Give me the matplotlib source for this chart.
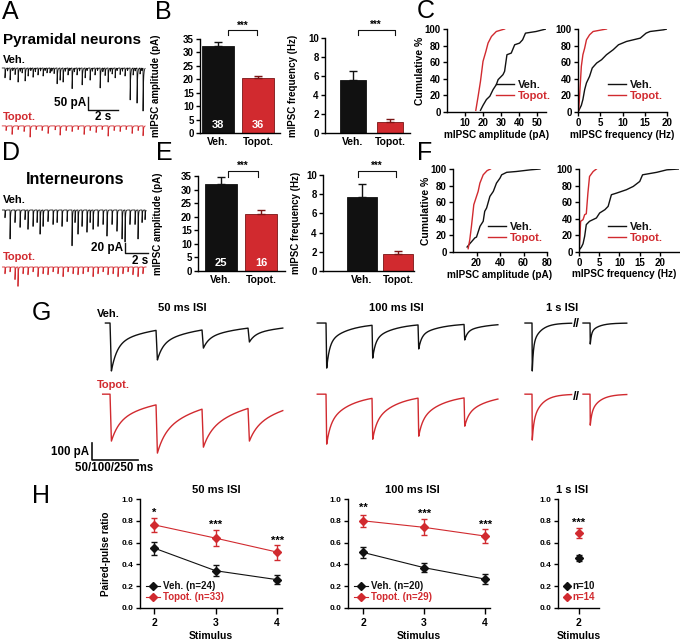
import numpy as np
import matplotlib.pyplot as plt
from matplotlib.lines import Line2D

W, H = 680, 644
RED = '#d12a2f'
DARKRED = '#7a1515'
BLACK = '#111111'

plt.rcParams['font.family'] = ['Liberation Sans', 'DejaVu Sans']
plt.rcParams['font.weight'] = 'bold'
plt.rcParams['axes.labelweight'] = 'bold'
plt.rcParams['axes.linewidth'] = 1.0
plt.rcParams['xtick.major.width'] = 1.0
plt.rcParams['ytick.major.width'] = 1.0

# ---------------- data ----------------
groups = ['Veh.', 'Topot.']

# B: pyramidal neurons, mean +- sem
b_amp, b_amp_err, b_n = [32.3, 20.6], [1.6, 0.8], [38, 36]
b_freq, b_freq_err = [5.6, 1.15], [0.95, 0.3]
# E: interneurons
e_amp, e_amp_err, e_n = [32.2, 21.0], [2.6, 1.5], [25, 16]
e_freq, e_freq_err = [7.7, 1.75], [1.4, 0.38]

# C: cumulative distributions, pyramidal neurons
c_amp_veh_x = [18.6, 20, 21.9, 23.8, 25.6, 27.4, 28.4, 29.3, 31.1, 32, 33.3, 35.7, 37.6, 40.3, 42, 43.6, 49.5, 55]
c_amp_veh_y = [2, 8, 15, 19, 27, 33, 39, 41, 45, 49, 69, 71, 81, 83, 87, 95, 97, 100]
c_amp_top_x = [16, 17.3, 18.6, 20, 21.6, 22.8, 24.7, 27.4, 32]
c_amp_top_y = [2, 19, 37, 61, 73, 83, 91, 97, 100]
c_freq_veh_x = [0.2, 0.75, 1.1, 1.5, 1.9, 2.6, 3.2, 4.2, 5.3, 6.4, 7.9, 9.1, 10.9, 14, 15.3, 16.2, 19.2, 20]
c_freq_veh_y = [2, 8, 15, 27, 35, 43, 53, 59, 63, 69, 75, 81, 85, 89, 95, 97, 99, 100]
c_freq_top_x = [0.15, 0.4, 0.75, 1.1, 1.5, 1.9, 2.6, 3.4, 6.4]
c_freq_top_y = [2, 23, 55, 69, 77, 87, 93, 97, 100]

# F: cumulative distributions, interneurons
f_amp_veh_x = [12, 14.3, 18.6, 20, 23, 25.7, 27, 28.6, 31.4, 34.3, 37, 40, 41.4, 45.7, 54, 66, 74]
f_amp_veh_y = [6, 10, 17, 18, 31, 37, 49, 53, 67, 73, 83, 89, 93, 96, 97, 99, 100]
f_amp_top_x = [12.9, 14.3, 15.7, 17.7, 20, 21.4, 22.9, 25.7, 29, 31.9]
f_amp_top_y = [4, 15, 31, 57, 67, 73, 83, 93, 98, 100]
f_freq_veh_x = [0.3, 0.6, 1, 1.4, 1.8, 2.6, 4.3, 5.1, 6.4, 7.2, 8, 9.3, 11.7, 13.4, 15, 15.7, 19.2, 21.7, 24.6]
f_freq_veh_y = [4, 6, 10, 19, 33, 37, 41, 47, 51, 55, 69, 71, 75, 79, 85, 93, 96, 99, 100]
f_freq_top_x = [0, 0.2, 0.4, 1, 1.4, 1.8, 2.2, 2.6, 3.5, 4.3]
f_freq_top_y = [2, 15, 37, 39, 45, 46, 71, 91, 97, 100]

# A: spontaneous events (time s, amplitude pA)
a_veh_t = [0.13, 0.3, 0.47, 0.65, 0.8, 1.0, 1.15, 1.27, 1.47, 1.67, 1.85, 2.0, 2.15, 2.33, 2.5,
           2.67, 2.8, 2.93, 3.13, 3.25, 3.4, 3.6, 3.8, 4.0, 4.15, 4.33, 4.45, 4.6, 4.75, 4.93,
           5.1, 5.27, 5.47, 5.6, 5.8, 5.95, 6.13, 6.3, 6.47, 6.65, 6.8, 7.0, 7.15, 7.27, 7.47,
           7.6, 7.8, 7.95, 8.13, 8.3, 8.47, 8.67, 8.8, 8.93, 9.13, 9.25, 9.33]
a_veh_amp = [38, 12, 46, 10, 27, 58, 12, 19, 50, 31, 10, 38, 14, 27, 12,
             31, 10, 19, 19, 12, 23, 65, 50, 58, 12, 27, 10, 85, 14, 27,
             12, 65, 38, 10, 50, 12, 27, 10, 77, 14, 31, 58, 12, 23, 38,
             10, 27, 12, 31, 10, 123, 27, 12, 135, 23, 10, 165]
a_top_t = [0.2, 0.6, 1.0, 1.4, 1.8, 2.2, 2.6, 3.0, 3.47, 3.8, 4.2, 4.6, 5.0, 5.4, 5.8, 6.2,
           6.6, 7.0, 7.4, 7.8, 8.2, 8.6, 9.0, 9.33]
a_top_amp = [19, 35, 15, 23, 46, 15, 19, 31, 15, 38, 19, 23, 15, 35, 19, 27,
             15, 42, 19, 23, 15, 31, 19, 38]

# D: spontaneous events (time s, amplitude pA)
d_veh_t = [0.17, 0.61, 1.04, 1.48, 1.91, 2.17, 2.61, 2.96, 3.22, 3.48, 3.91, 4.35, 4.7, 5.13,
           5.57, 6.0, 6.26, 6.52, 6.87, 7.3, 7.57, 7.83, 8.26, 8.7, 9.04, 9.48, 9.91, 10.35,
           10.61, 11.04, 11.48, 11.74, 12.09, 12.35]
d_veh_amp = [16, 60, 26, 36, 20, 40, 34, 26, 50, 34, 24, 30, 26, 34,
             24, 74, 26, 50, 34, 46, 26, 40, 34, 30, 54, 30, 44, 60,
             66, 30, 30, 60, 26, 20]
d_top_t = [0.17, 0.61, 1.04, 1.3, 1.74, 2.17, 2.61, 3.04, 3.48, 3.91, 4.35, 4.78, 5.22, 5.65,
           6.09, 6.52, 6.96, 7.39, 7.83, 8.26, 8.7, 9.13, 9.57, 10.0, 10.43, 10.87, 11.3,
           11.74, 12.17]
d_top_amp = [14, 10, 26, 40, 14, 16, 10, 20, 14, 16, 10, 14, 20, 10,
             14, 16, 14, 10, 20, 14, 10, 16, 14, 20, 14, 10, 16, 20, 14]

# G: evoked trains, peak current (pA) per stimulus
g_isi = [50, 100, 1000]
g_veh_peaks = [[283, 218, 148, 112], [266, 207, 153, 100], [283, 124]]
g_top_peaks = [[277, 348, 313, 277], [295, 266, 248, 189], [271, 183]]
g_veh_decay = (0.55, 6.0, 45.0)   # fast fraction, tau fast (ms), tau slow (ms)
g_top_decay = (0.40, 8.0, 50.0)

# H: paired-pulse ratio
stim = [2, 3, 4]
h50_veh, h50_veh_err = [0.55, 0.342, 0.26], [0.06, 0.053, 0.043]
h50_top, h50_top_err = [0.763, 0.641, 0.513], [0.067, 0.073, 0.069]
h100_veh, h100_veh_err = [0.51, 0.37, 0.265], [0.05, 0.04, 0.043]
h100_top, h100_top_err = [0.80, 0.74, 0.66], [0.055, 0.073, 0.066]
h1_veh, h1_veh_err = [0.458], [0.03]
h1_top, h1_top_err = [0.69], [0.045]
h50_stars, h50_star_y = ['*', '***', '***'], [0.87, 0.76, 0.62]
h100_stars, h100_star_y = ['**', '***', '***'], [0.92, 0.86, 0.76]

# ---------------- helpers ----------------
fig = plt.figure(figsize=(W / 100, H / 100), dpi=100)


def px_axes(x0, y0, x1, y1):
    return fig.add_axes([x0 / W, 1 - y1 / H, (x1 - x0) / W, (y1 - y0) / H])


def ftext(x, y, s, **kw):
    kw.setdefault('va', 'center')
    return fig.text(x / W, 1 - y / H, s, **kw)


def clean(ax):
    ax.spines['top'].set_visible(False)
    ax.spines['right'].set_visible(False)
    ax.tick_params(length=3, pad=1.5, labelsize=7)


def spont_trace(t, times, amps, tau=0.03, rise=0.004):
    y = np.zeros_like(t)
    for ti, a in zip(times, amps):
        dt = t - ti
        y -= a * np.where(dt < 0, 0.0, np.where(dt < rise, dt / rise, np.exp(-np.clip(dt - rise, 0, None) / tau)))
    return y


def evoked_trace(t, times, peaks, decay, rise=1.5):
    frac, tf, ts = decay

    def shape(dt):
        dt = np.asarray(dt, float)
        late = np.clip(dt - rise, 0, None)
        s = frac * np.exp(-late / tf) + (1 - frac) * np.exp(-late / ts)
        return np.where(dt < 0, 0.0, np.where(dt < rise, dt / rise, s))

    incs = []
    for i, (ti, pk) in enumerate(zip(times, peaks)):
        resid = sum(incs[j] * shape(ti + rise - times[j]) for j in range(i))
        incs.append(pk - resid)
    y = np.zeros_like(t)
    for ti, a in zip(times, incs):
        y -= a * shape(t - ti)
    return y


def blank(ax):
    ax.axis('off')


# ---------------- panel letters & titles ----------------
for lab, x, y in [('A', 2, 0), ('B', 155, 0), ('C', 417, -1), ('D', 2, 141), ('E', 156, 141),
                  ('F', 417, 141), ('G', 32, 301), ('H', 32, 484)]:
    ftext(x, y, lab, fontsize=18, fontweight='normal', va='top')

ftext(3, 40, 'Pyramidal neurons', fontsize=11)
ftext(26, 180, 'Interneurons', fontsize=11.6)

# ---------------- A: traces ----------------
ax = px_axes(0, 50, 152, 145)
blank(ax)
ax.set_xlim(-0.2, 9.93)
ax.set_ylim(-296.5, 69.3)
t = np.arange(-0.05, 9.47, 0.004)
ax.plot(t, spont_trace(t, a_veh_t, a_veh_amp), color=BLACK, lw=0.6)
ax.plot(t, spont_trace(t, a_top_t, a_top_amp) - 223, color=RED, lw=0.6)
ax.plot([5.67, 5.67, 7.67], [-111.7, -161.7, -161.7], color=BLACK, lw=1.0)
ax.text(5.55, -136, '50 pA', ha='right', va='center', fontsize=8.5)
ax.text(6.67, -188, '2 s', ha='center', va='center', fontsize=8.5)
ftext(3, 60, 'Veh.', fontsize=8)
ftext(3, 117, 'Topot.', fontsize=8, color=RED)

# ---------------- D: traces ----------------
ax = px_axes(0, 188, 152, 295)
blank(ax)
ax.set_xlim(-0.26, 12.96)
ax.set_ylim(-170, 44)
t = np.arange(-0.05, 12.45, 0.005)
ax.plot(t, spont_trace(t, d_veh_t, d_veh_amp), color=BLACK, lw=0.6)
ax.plot(t, spont_trace(t, d_top_t, d_top_amp) - 114, color=RED, lw=0.6)
ax.plot([10.61, 10.61, 12.61], [-66, -86, -86], color=BLACK, lw=1.0)
ax.text(10.45, -76, '20 pA', ha='right', va='center', fontsize=8.5)
ax.text(11.9, -102, '2 s', ha='center', va='center', fontsize=8.5)
ftext(3, 200, 'Veh.', fontsize=8)
ftext(3, 257, 'Topot.', fontsize=8, color=RED)


# ---------------- B / E: bars ----------------
def bar_panel(rect, xlim, width, vals, errs, ylim, yticks, ylabel, label_px, counts=None,
              bracket=None, star_y=None):
    ax = px_axes(*rect)
    clean(ax)
    x = np.arange(2)
    ax.bar(x, vals, width=width, color=[BLACK, RED], edgecolor=[BLACK, DARKRED], linewidth=0.6)
    ax.errorbar(x[:1], vals[:1], yerr=[[0], errs[:1]], fmt='none', ecolor=BLACK, elinewidth=1, capsize=3)
    ax.errorbar(x[1:], vals[1:], yerr=[[0], errs[1:]], fmt='none', ecolor=DARKRED, elinewidth=1, capsize=3)
    ax.set_xlim(*xlim)
    ax.set_ylim(*ylim)
    ax.set_yticks(yticks)
    ax.set_xticks(x)
    ax.set_xticklabels(groups, fontsize=7.5)
    ax.tick_params(axis='x', length=0, pad=3)
    ax.set_ylabel(ylabel, fontsize=7)
    ax.yaxis.set_label_coords((label_px - rect[0]) / (rect[2] - rect[0]), 0.5)
    if counts is not None:
        for xi, n in zip(x, counts):
            ax.text(xi, ylim[1] * 0.085, str(n), color='white', ha='center', va='center', fontsize=8)
    if bracket is not None:
        x0, x1, yb, yt = bracket
        ax.plot([x0, x0, x1, x1], [yb, yt, yt, yb], color=BLACK, lw=0.8, clip_on=False)
        ax.text((x0 + x1) / 2, star_y, '***', ha='center', va='center', fontsize=7)
    return ax


bar_panel((200, 39, 280, 133), (-0.45, 1.55), 0.78, b_amp, b_amp_err, (0, 35), range(0, 36, 5),
          'mIPSC amplitude (pA)', 161, b_n, (0.25, 0.97, 36.6, 38.4), 39.8)
bar_panel((325, 38, 410, 133), (-0.76, 1.54), 0.7, b_freq, b_freq_err, (0, 10), range(0, 11, 2),
          'mIPSC frequency (Hz)', 298, None, (0.12, 1.13, 10.3, 10.85), 11.35)
bar_panel((198, 176, 285, 271), (-0.575, 1.6), 0.82, e_amp, e_amp_err, (0, 35), range(0, 36, 5),
          'mIPSC amplitude (pA)', 163, e_n, (0.18, 0.92, 34.8, 37.0), 38.6)
bar_panel((323, 175, 414, 271), (-1.08, 1.44), 0.83, e_freq, e_freq_err, (0, 10), range(0, 11, 2),
          'mIPSC frequency (Hz)', 301, None, (-0.1, 0.93, 9.8, 10.4), 10.95)


# ---------------- C / F: cumulative ----------------
def cum_panel(rect, xlim, xticks, vx, vy, tx, ty, xlabel, leg_anchor, ylabel=None, xlabel_px=None):
    ax = px_axes(*rect)
    clean(ax)
    ax.plot(vx, vy, color=BLACK, lw=1.0, label='Veh.')
    ax.plot(tx, ty, color=RED, lw=1.0, label='Topot.')
    ax.set_xlim(*xlim)
    ax.set_ylim(0, 100)
    ax.set_xticks(xticks)
    ax.set_yticks(range(0, 101, 20))
    ax.set_xlabel(xlabel, fontsize=7.2, labelpad=1)
    if xlabel_px is not None:
        ax.xaxis.set_label_coords((xlabel_px - rect[0]) / (rect[2] - rect[0]), -0.2)
    if ylabel:
        ax.set_ylabel(ylabel, fontsize=7.5, labelpad=0)
    leg = ax.legend(loc='lower right', bbox_to_anchor=leg_anchor, frameon=False, fontsize=8,
                    handlelength=1.6, handletextpad=0.3, labelspacing=0.05, borderaxespad=0)
    for txt, c in zip(leg.get_texts(), [BLACK, RED]):
        txt.set_color(c)
    return ax


cum_panel((447, 29, 546, 112), (0, 55), [10, 20, 30, 40, 50], c_amp_veh_x, c_amp_veh_y,
          c_amp_top_x, c_amp_top_y, 'mIPSC amplitude (pA)', (1.09, 0.08), 'Cumulative %')
cum_panel((578, 29, 667, 112), (0, 20), [0, 5, 10, 15, 20], c_freq_veh_x, c_freq_veh_y,
          c_freq_top_x, c_freq_top_y, 'mIPSC frequency (Hz)', (1.0, 0.08))
cum_panel((453, 169, 547, 252), (0, 80), [20, 40, 60, 80], f_amp_veh_x, f_amp_veh_y,
          f_amp_top_x, f_amp_top_y, 'mIPSC amplitude (pA)', (1.0, 0.06), 'Cumulative %')
cum_panel((579, 169, 679, 252), (0, 24.7), [0, 5, 10, 15, 20], f_freq_veh_x, f_freq_veh_y,
          f_freq_top_x, f_freq_top_y, 'mIPSC frequency (Hz)', (0.88, 0.06), xlabel_px=624)

# ---------------- G: evoked traces ----------------
RED_OFF = -420
G_YLIM = (-915, 136)

# 50 ms ISI
ax = px_axes(85, 300, 292, 478)
blank(ax)
ax.set_xlim(-27.2, 197.8)
ax.set_ylim(*G_YLIM)
t = np.arange(-5, 188, 0.25)
times = [i * g_isi[0] for i in range(4)]
ax.plot(t, evoked_trace(t, times, g_veh_peaks[0], g_veh_decay), color=BLACK, lw=1.0)
t = np.arange(-8, 188, 0.25)
ax.plot(t, evoked_trace(t, times, g_top_peaks[0], g_top_decay) + RED_OFF, color=RED, lw=1.0)
ax.plot([-19.6, -19.6, 30.4], [-708, -808, -808], color=BLACK, lw=1.2, clip_on=False)

# 100 ms ISI
ax = px_axes(310, 300, 505, 478)
blank(ax)
ax.set_xlim(-34.8, 389)
ax.set_ylim(*G_YLIM)
t = np.arange(-19, 374, 0.5)
times = [i * g_isi[1] for i in range(4)]
ax.plot(t, evoked_trace(t, times, g_veh_peaks[1], g_veh_decay), color=BLACK, lw=1.0)
ax.plot(t, evoked_trace(t, times, g_top_peaks[1], g_top_decay) + RED_OFF, color=RED, lw=1.0)

# 1 s ISI (broken axis)
t = np.arange(-38, 1200, 0.5)
times = [0, g_isi[2]]
veh1 = evoked_trace(t, times, g_veh_peaks[2], g_veh_decay)
top1 = evoked_trace(t, times, g_top_peaks[2], g_top_decay) + RED_OFF
for rect, xl, mask in [((518, 300, 574, 478), (-76, 228), t <= 215),
                       ((578, 300, 632, 478), (934.8, 1228), t >= 962)]:
    ax = px_axes(*rect)
    blank(ax)
    ax.set_xlim(*xl)
    ax.set_ylim(*G_YLIM)
    ax.plot(t[mask], veh1[mask], color=BLACK, lw=1.0)
    ax.plot(t[mask], top1[mask], color=RED, lw=1.0)
ftext(576, 324, '//', fontsize=9, ha='center')
ftext(576, 397, '//', fontsize=9, ha='center')

ftext(182, 308, '50 ms ISI', fontsize=8, ha='center')
ftext(396, 308, '100 ms ISI', fontsize=8, ha='center')
ftext(562, 308, '1 s ISI', fontsize=8, ha='center')
ftext(97, 314, 'Veh.', fontsize=8)
ftext(97, 385, 'Topot.', fontsize=8, color=RED)
ftext(89, 452, '100 pA', fontsize=8.3, ha='right')
ftext(114, 468, '50/100/250 ms', fontsize=8.3, ha='center')


# ---------------- H: paired-pulse ratio ----------------
def ppr_panel(rect, xlim, xs, veh, veh_err, top, top_err, labels, stars=None, star_y=None,
              ylabel=False, lines=True):
    ax = px_axes(*rect)
    clean(ax)
    ls = '-' if lines else 'none'
    for vals, errs, c in [(veh, veh_err, BLACK), (top, top_err, RED)]:
        ax.errorbar(xs, vals, yerr=errs, color=c, lw=0.8, ls=ls, marker='D', ms=4,
                    elinewidth=1.0, capsize=2.5, capthick=1.0)
    ax.set_xlim(*xlim)
    ax.set_ylim(0, 1.0)
    ax.set_xticks(xs)
    ax.set_yticks(np.arange(0, 1.01, 0.2))
    ax.set_yticklabels(['%.1f' % v for v in np.arange(0, 1.01, 0.2)], fontsize=6)
    ax.tick_params(axis='x', length=4, labelsize=7.5, pad=3)
    ax.set_xlabel('Stimulus', fontsize=7.5, labelpad=2.5)
    if ylabel:
        ax.set_ylabel('Paired-pulse ratio', fontsize=7.2, labelpad=8)
    if stars is not None:
        for xi, s, y in zip(xs, stars, star_y):
            ax.text(xi, y, s, ha='center', va='center', fontsize=8)
    handles = [Line2D([], [], color=c, lw=0.8, ls=ls, marker='D', ms=4) for c in (BLACK, RED)]
    leg = ax.legend(handles, labels, loc='lower left', bbox_to_anchor=(0.0, 0.0), frameon=False,
                    fontsize=7, handlelength=1.5 if lines else 0.6, handletextpad=0.3,
                    labelspacing=0.1, borderaxespad=0.2)
    for txt, c in zip(leg.get_texts(), [BLACK, RED]):
        txt.set_color(c)
    return ax


ppr_panel((140, 499, 282, 608), (1.772, 4.08), stim, h50_veh, h50_veh_err, h50_top, h50_top_err,
          ['Veh. (n=24)', 'Topot. (n=33)'], h50_stars, h50_star_y, ylabel=True)
ppr_panel((348, 499, 490, 608), (1.754, 4.08), stim, h100_veh, h100_veh_err, h100_top, h100_top_err,
          ['Veh. (n=20)', 'Topot. (n=29)'], h100_stars, h100_star_y)
ppr_panel((558, 499, 599, 608), (1.656, 2.328), [2], h1_veh, h1_veh_err, h1_top, h1_top_err,
          ['n=10', 'n=14'], ['***'], [0.78], lines=False)

ftext(216, 490, '50 ms ISI', fontsize=8, ha='center')
ftext(412, 490, '100 ms ISI', fontsize=8, ha='center')
ftext(572, 490, '1 s ISI', fontsize=8, ha='center')

fig.savefig('out.png', dpi=100)
